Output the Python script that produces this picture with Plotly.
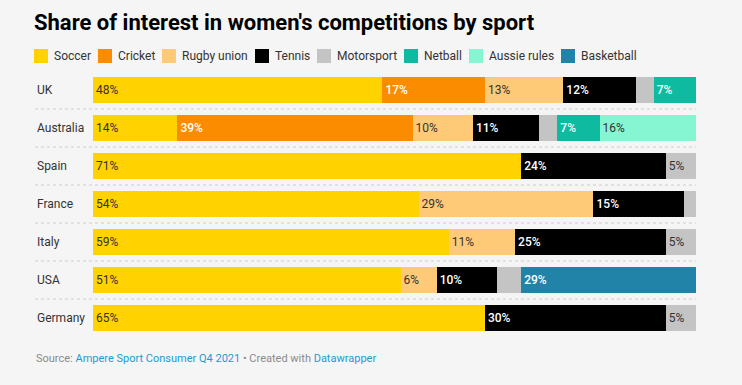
import plotly.graph_objects as go

# ---- data ----
countries = ["UK", "Australia", "Spain", "France", "Italy", "USA", "Germany"]
sports = ["Soccer", "Cricket", "Rugby union", "Tennis", "Motorsport", "Netball", "Aussie rules", "Basketball"]
soccer      = [48, 14, 71, 54, 59, 51, 65]
cricket     = [17, 39, 0, 0, 0, 0, 0]
rugby_union = [13, 10, 0, 29, 11, 6, 0]
tennis      = [12, 11, 24, 15, 25, 10, 30]
motorsport  = [3, 3, 5, 2, 5, 4, 5]
netball     = [7, 7, 0, 0, 0, 0, 0]
aussie_rules = [0, 16, 0, 0, 0, 0, 0]
basketball  = [0, 0, 0, 0, 0, 29, 0]
series = [soccer, cricket, rugby_union, tennis, motorsport, netball, aussie_rules, basketball]

# ---- style ----
colors = ["#FFD200", "#FB8C00", "#FFCA78", "#000000", "#C4C4C4", "#0FBBA0", "#85F5D2", "#2183A7"]
label_colors = ["#333333", "#ffffff", "#333333", "#ffffff", "#333333", "#ffffff", "#333333", "#ffffff"]
label_weights = [400, 500, 400, 500, 400, 500, 400, 500]
BG = "#f5f5f5"
W, H = 742, 385
ML, MR, MT, MB = 93, 46, 71, 48
PW, PH = W - ML - MR, H - MT - MB


def px_x(px):
    return (px - ML) / PW


def px_y(py):
    return (H - MB - py) / PH


fig = go.Figure()
for name, vals, col, lcol, lw in zip(sports, series, colors, label_colors, label_weights):
    fig.add_trace(go.Bar(
        y=countries, x=vals, name=name, orientation="h",
        marker=dict(color=col, line=dict(width=0)),
        text=[f"{v}%" if v >= 5 else "" for v in vals],
        textposition="inside", insidetextanchor="start", textangle=0,
        insidetextfont=dict(family="Roboto", size=12, color=lcol, weight=lw),
        constraintext="none",
        hoverinfo="skip", showlegend=False,
    ))

shapes = []
annotations = []

# dotted separators between rows
for i in range(len(countries) - 1):
    shapes.append(dict(type="line", xref="paper", yref="y",
                       x0=px_x(35), x1=1, y0=i + 0.5, y1=i + 0.5,
                       line=dict(color="#cccccc", width=1, dash="dot")))

# row labels
for c in countries:
    annotations.append(dict(xref="paper", yref="y", x=px_x(35), y=c, text=c,
                            xanchor="left", yanchor="middle", showarrow=False,
                            font=dict(family="Roboto", size=12, color="#333333")))

# manual legend
legend_x = [34, 98, 162, 255, 317, 404, 469, 561]
for name, col, lx in zip(sports, colors, legend_x):
    shapes.append(dict(type="rect", xref="paper", yref="paper",
                       x0=px_x(lx), x1=px_x(lx + 14), y0=px_y(63), y1=px_y(49),
                       fillcolor=col, line=dict(width=0)))
    annotations.append(dict(xref="paper", yref="paper", x=px_x(lx + 17.5), y=px_y(56),
                            text=name, xanchor="left", yanchor="middle", showarrow=False,
                            font=dict(family="Roboto", size=12, color="#333333")))

# footer
annotations.append(dict(
    xref="paper", yref="paper", x=px_x(34), y=px_y(358), xanchor="left", yanchor="middle",
    showarrow=False,
    text=("<span style='color:#8a8a8a'>Source: </span>"
          "<span style='color:#1d9bd1'>Ampere Sport Consumer Q4 2021</span>"
          "<span style='color:#8a8a8a'> • Created with </span>"
          "<span style='color:#1d9bd1'>Datawrapper</span>"),
    font=dict(family="Roboto", size=11, color="#8a8a8a")))

fig.update_layout(
    width=W, height=H, autosize=False,
    margin=dict(l=ML, r=MR, t=MT, b=MB, pad=0),
    paper_bgcolor=BG, plot_bgcolor=BG,
    barmode="stack", bargap=0.29,
    title=dict(text="Share of interest in women's competitions by sport",
               x=34 / W, xanchor="left", xref="container",
               y=1 - 22 / H, yanchor="middle", yref="container",
               font=dict(family="Roboto", size=22, color="#000000", weight=700)),
    xaxis=dict(range=[0, 100], visible=False, fixedrange=True),
    yaxis=dict(categoryorder="array", categoryarray=countries, autorange="reversed",
               showticklabels=False, showgrid=False, zeroline=False, showline=False,
               ticks="", fixedrange=True),
    shapes=shapes, annotations=annotations,
    font=dict(family="Roboto"),
)

fig.write_html("out.html", config={"displayModeBar": False},
               post_script="document.body.style.margin='0';document.body.style.background='#f5f5f5';")
